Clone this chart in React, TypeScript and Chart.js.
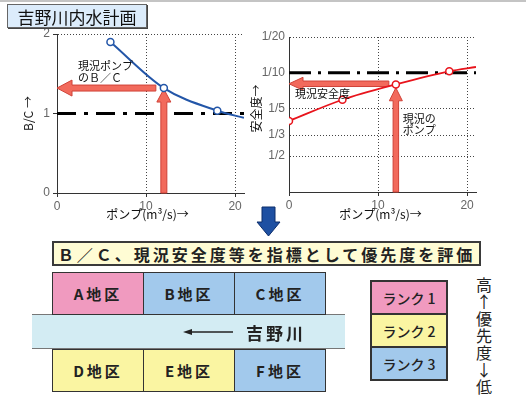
import React, { useEffect, useRef } from 'react';
import { Chart, registerables } from 'chart.js';
Chart.register(...registerables);

// ---------- data ----------
const PUMP_X_TICKS = [0, 10, 20];
const PUMP_MAX = 21;
const BC_TICKS = [0, 1, 2];
const BC_MAX = 2;
const BC_PUMP = [6, 12, 18, 21];
const BC_VALUES = [1.9, 1.32, 1.035, 0.945];
const BC_MARKED = [true, true, true, false];
const BC_THRESHOLD = 1;

const SAFETY_TICKS = [1, 2, 3, 5, 10, 20]; // return period (1/N)
const SAFETY_GRID = [2, 3, 5, 20];
const SAFETY_PUMP = [0, 6, 12, 18, 21];
const SAFETY_VALUES = [3.95, 5.95, 8.0, 10.3, 11.2];
const SAFETY_MARKED = [true, true, true, true, false];
const SAFETY_TARGET = 10;

const CURRENT_PUMP = 12;
const CURRENT_BC = 1.32;
const CURRENT_SAFETY = 8.1;

const TOP_DISTRICTS = ['A地区', 'B地区', 'C地区'];
const TOP_RANKS = [1, 3, 3];
const BOTTOM_DISTRICTS = ['D地区', 'E地区', 'F地区'];
const BOTTOM_RANKS = [2, 2, 3];
const RANK_LABELS = ['ランク 1', 'ランク 2', 'ランク 3'];
const PRIORITY_SCALE = ['高', '↑', '優', '先', '度', '↓', '低'];

// ---------- styles ----------
const FONT = '"Noto Sans CJK JP", "Noto Sans", sans-serif';
const BLUE = '#2356a8';
const RED = '#e8141c';
const GRID = '#444';
const RANK_COLORS: Record<number, string> = { 1: '#f09abf', 2: '#faf5a2', 3: '#a2c9ec' };

function drawArrow(ctx: CanvasRenderingContext2D, x1: number, y1: number, x2: number, y2: number, shaft: number, headW: number, headL: number) {
  const ang = Math.atan2(y2 - y1, x2 - x1);
  const len = Math.hypot(x2 - x1, y2 - y1);
  ctx.save();
  ctx.translate(x1, y1);
  ctx.rotate(ang);
  ctx.beginPath();
  ctx.moveTo(0, -shaft / 2);
  ctx.lineTo(len - headL, -shaft / 2);
  ctx.lineTo(len - headL, -headW / 2);
  ctx.lineTo(len, 0);
  ctx.lineTo(len - headL, headW / 2);
  ctx.lineTo(len - headL, shaft / 2);
  ctx.lineTo(0, shaft / 2);
  ctx.closePath();
  ctx.fillStyle = '#f26a5c';
  ctx.fill();
  ctx.strokeStyle = '#d04238';
  ctx.lineWidth = 1;
  ctx.stroke();
  ctx.restore();
}

function axisOpts(extra: any) {
  return {
    border: { display: true, color: '#333', width: 1, dash: [1, 2] },
    ticks: { color: '#111', font: { size: 11, family: FONT }, autoSkip: false, maxRotation: 0, ...(extra.ticks || {}) },
    ...extra,
  };
}

function leftConfig(): any {
  const annot = {
    id: 'leftAnnot',
    afterDatasetDraw(chart: any, args: any) {
      if (args.index !== 1) return;
      const { ctx, scales: { x, y } } = chart;
      const px = x.getPixelForValue(CURRENT_PUMP);
      const py = y.getPixelForValue(CURRENT_BC);
      drawArrow(ctx, px - 8, py, x.getPixelForValue(0), py, 6, 16, 15);
      drawArrow(ctx, px, y.getPixelForValue(0), px, py + 1, 6, 14, 13);
    },
    afterDraw(chart: any) {
      const { ctx, chartArea: a, scales: { y } } = chart;
      const py = y.getPixelForValue(CURRENT_BC);
      ctx.save();
      ctx.fillStyle = '#111';
      ctx.font = `11px ${FONT}`;
      ctx.textBaseline = 'middle';
      ctx.textAlign = 'left';
      ctx.fillText('現況ポンプ', a.left + 21, py - 22);
      ctx.fillText('のＢ／Ｃ', a.left + 21, py - 10);
      ctx.font = `12px ${FONT}`;
      ctx.textAlign = 'center';
      ctx.fillText('ポンプ(m³/s)→', (a.left + a.right) / 2 - 3, a.bottom + 21);
      ctx.translate(28, (a.top + a.bottom) / 2);
      ctx.rotate(-Math.PI / 2);
      ctx.fillText('B/C →', 0, 0);
      ctx.restore();
    },
  };
  return {
    type: 'line',
    data: {
      datasets: [
        {
          data: BC_PUMP.map((x, i) => ({ x, y: BC_VALUES[i] })),
          borderColor: BLUE,
          borderWidth: 2,
          cubicInterpolationMode: 'monotone',
          pointRadius: BC_MARKED.map((m) => (m ? 3.5 : 0)),
          pointBackgroundColor: '#fff',
          pointBorderColor: BLUE,
          pointBorderWidth: 1.5,
          order: 0,
        },
        {
          data: [{ x: 0, y: BC_THRESHOLD }, { x: PUMP_MAX, y: BC_THRESHOLD }],
          borderColor: '#000',
          borderWidth: 3,
          borderDash: [19, 8, 4, 8],
          pointRadius: 0,
          order: 1,
        },
      ],
    },
    options: {
      responsive: false,
      maintainAspectRatio: false,
      animation: false,
      events: [],
      layout: { padding: { top: 34, right: 6, left: 0, bottom: 0 } },
      plugins: { legend: { display: false }, tooltip: { enabled: false } },
      scales: {
        x: axisOpts({
          type: 'linear', min: 0, max: PUMP_MAX,
          afterBuildTicks: (s: any) => { s.ticks = PUMP_X_TICKS.map((v) => ({ value: v })); },
          afterFit: (s: any) => { s.height = 29; },
          grid: { color: GRID, lineWidth: 1, drawTicks: true, tickLength: 4, tickColor: '#333', tickBorderDash: [] },
          ticks: { padding: 2 },
        }),
        y: axisOpts({
          type: 'linear', min: 0, max: BC_MAX,
          afterBuildTicks: (s: any) => { s.ticks = BC_TICKS.map((v) => ({ value: v })); },
          afterFit: (s: any) => { s.width = 57; },
          grid: { color: (c: any) => (c.tick && c.tick.value === BC_MAX ? GRID : 'rgba(0,0,0,0)'), lineWidth: 1, drawTicks: true, tickLength: 4, tickColor: '#333', tickBorderDash: [] },
          ticks: { padding: 3 },
        }),
      },
    },
    plugins: [annot],
  };
}

function rightConfig(): any {
  const annot = {
    id: 'rightAnnot',
    afterDatasetDraw(chart: any, args: any) {
      if (args.index !== 1) return;
      const { ctx, chartArea: a, scales: { x, y } } = chart;
      const px = x.getPixelForValue(CURRENT_PUMP);
      const py = y.getPixelForValue(CURRENT_SAFETY);
      drawArrow(ctx, px - 7, py, x.getPixelForValue(0), py, 5.5, 13, 14);
      drawArrow(ctx, px, a.bottom, px, py + 4, 5.5, 13, 13);
    },
    afterDraw(chart: any) {
      const { ctx, chartArea: a, scales: { x, y } } = chart;
      const px = x.getPixelForValue(CURRENT_PUMP);
      const py = y.getPixelForValue(CURRENT_SAFETY);
      ctx.save();
      ctx.fillStyle = '#111';
      ctx.font = `11px ${FONT}`;
      ctx.textBaseline = 'middle';
      ctx.textAlign = 'left';
      ctx.fillText('現況安全度', a.left + 6, py + 10);
      ctx.fillText('現況の', px + 7, py + 35);
      ctx.fillText('ポンプ', px + 7, py + 46);
      ctx.font = `12px ${FONT}`;
      ctx.textAlign = 'center';
      ctx.fillText('ポンプ(m³/s)→', (a.left + a.right) / 2 - 2, a.bottom + 22);
      ctx.translate(6, (a.top + a.bottom) / 2 - 6);
      ctx.rotate(-Math.PI / 2);
      ctx.fillText('安全度→', 0, 0);
      ctx.restore();
    },
  };
  return {
    type: 'line',
    data: {
      datasets: [
        {
          data: SAFETY_PUMP.map((x, i) => ({ x, y: SAFETY_VALUES[i] })),
          borderColor: RED,
          borderWidth: 1.8,
          cubicInterpolationMode: 'monotone',
          pointRadius: SAFETY_MARKED.map((m) => (m ? 3.5 : 0)),
          pointBackgroundColor: '#fff',
          pointBorderColor: RED,
          pointBorderWidth: 1.5,
          order: 0,
        },
        {
          data: [{ x: 0, y: SAFETY_TARGET }, { x: PUMP_MAX, y: SAFETY_TARGET }],
          borderColor: '#000',
          borderWidth: 3,
          borderDash: [22, 7, 3, 7],
          pointRadius: 0,
          order: 1,
        },
      ],
    },
    options: {
      responsive: false,
      maintainAspectRatio: false,
      animation: false,
      events: [],
      layout: { padding: { top: 37, right: 9, left: 0, bottom: 0 } },
      plugins: { legend: { display: false }, tooltip: { enabled: false } },
      scales: {
        x: axisOpts({
          type: 'linear', min: 0, max: PUMP_MAX,
          afterBuildTicks: (s: any) => { s.ticks = PUMP_X_TICKS.map((v) => ({ value: v })); },
          afterFit: (s: any) => { s.height = 30; },
          grid: { color: GRID, lineWidth: 1, drawTicks: true, tickLength: 4, tickColor: '#333', tickBorderDash: [] },
          ticks: { padding: 2 },
        }),
        y: axisOpts({
          type: 'logarithmic', min: SAFETY_TICKS[0], max: SAFETY_TICKS[SAFETY_TICKS.length - 1],
          afterBuildTicks: (s: any) => { s.ticks = SAFETY_TICKS.map((v) => ({ value: v })); },
          afterFit: (s: any) => { s.width = 39; },
          grid: { color: (c: any) => (c.tick && SAFETY_GRID.includes(c.tick.value) ? GRID : 'rgba(0,0,0,0)'), lineWidth: 1, drawTicks: false },
          ticks: { padding: 4, callback: (v: any) => (v === SAFETY_TICKS[0] ? '' : '1/' + v) },
        }),
      },
    },
    plugins: [annot],
  };
}

function ChartCanvas({ make, left, width }: { make: () => any; left: number; width: number }) {
  const ref = useRef<HTMLCanvasElement>(null);
  useEffect(() => {
    const chart = new Chart(ref.current as HTMLCanvasElement, make());
    return () => chart.destroy();
  }, []);
  return <canvas ref={ref} width={width} height={222} style={{ position: 'absolute', left, top: 0, width, height: 222 }} />;
}

const cellBase: React.CSSProperties = {
  position: 'absolute',
  boxSizing: 'border-box',
  border: '1.5px solid #333',
  display: 'flex',
  alignItems: 'center',
  justifyContent: 'center',
  fontSize: 15,
  fontWeight: 700,
  letterSpacing: 3,
  color: '#222',
};

export default function App() {
  return (
    <div style={{ position: 'absolute', left: 0, top: 0, width: 526, height: 399, background: '#fff', overflow: 'hidden', fontFamily: FONT, color: '#111' }}>
      <div style={{ position: 'absolute', left: 0, top: 0, width: 526, height: 2, background: '#c4c4c4' }} />
      <ChartCanvas make={leftConfig} left={0} width={250} />
      <ChartCanvas make={rightConfig} left={250} width={235} />
      <div style={{ position: 'absolute', left: 7, top: 4, width: 140, height: 24, boxSizing: 'border-box', background: '#dcecfb', border: '1px solid #666', boxShadow: '1px 1px 0 #444', display: 'flex', alignItems: 'center', justifyContent: 'center', fontSize: 17, letterSpacing: 0 }}>
        吉野川内水計画
      </div>
      <svg width={30} height={34} style={{ position: 'absolute', left: 254, top: 205 }}>
        <polygon points="8,2 21,2 21,17 26,17 14.5,31 3,17 8,17" fill="#1e50a2" stroke="#0b2d6b" strokeWidth={1} />
      </svg>
      <div style={{ position: 'absolute', left: 52, top: 241, width: 429, height: 25, boxSizing: 'border-box', background: '#fffcd4', border: '2px solid #3a3a3a', display: 'flex', alignItems: 'center', justifyContent: 'center', fontSize: 16, fontWeight: 700, letterSpacing: 3, color: '#222' }}>
        Ｂ／Ｃ、現況安全度等を指標として優先度を評価
      </div>
      <div style={{ position: 'absolute', left: 32, top: 314, width: 313, height: 35, boxSizing: 'border-box', background: '#d3ecf3', borderTop: '1px solid #777', borderBottom: '1px solid #777' }} />
      <svg width={52} height={10} style={{ position: 'absolute', left: 183, top: 327 }}>
        <line x1={4} y1={5} x2={50} y2={5} stroke="#222" strokeWidth={1.5} />
        <polygon points="0,5 9,2 9,8" fill="#222" />
      </svg>
      <div style={{ position: 'absolute', left: 246, top: 320, height: 24, display: 'flex', alignItems: 'center', fontSize: 17, fontWeight: 700, letterSpacing: 3, color: '#222' }}>吉野川</div>
      {TOP_DISTRICTS.map((d, i) => (
        <div key={d} style={{ ...cellBase, left: 52 + i * 91, top: 272, width: 92, height: 43, background: RANK_COLORS[TOP_RANKS[i]] }}>{d}</div>
      ))}
      {BOTTOM_DISTRICTS.map((d, i) => (
        <div key={d} style={{ ...cellBase, left: 52 + i * 91, top: 349, width: 92, height: 43, background: RANK_COLORS[BOTTOM_RANKS[i]] }}>{d}</div>
      ))}
      {RANK_LABELS.map((r, i) => (
        <div key={r} style={{ ...cellBase, border: '2px solid #333', left: 370, top: 280 + i * 33, width: 78, height: 35, background: RANK_COLORS[i + 1], fontSize: 14, fontWeight: 500, letterSpacing: 0 }}>{r}</div>
      ))}
      <div style={{ position: 'absolute', left: 474, top: 276, width: 20, fontSize: 16, lineHeight: '17px', textAlign: 'center', color: '#222' }}>
        {PRIORITY_SCALE.map((c, i) => (<div key={i}>{c}</div>))}
      </div>
    </div>
  );
}
